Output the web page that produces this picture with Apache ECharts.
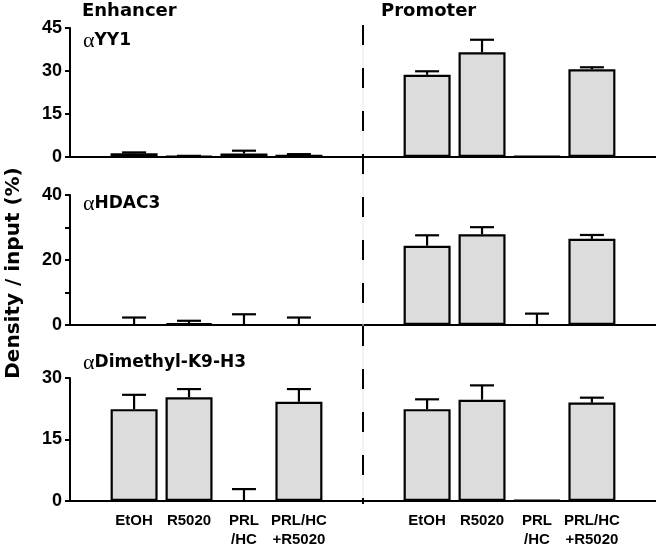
<!DOCTYPE html>
<html>
<head>
<meta charset="utf-8">
<script src="https://cdn.jsdelivr.net/npm/echarts@6/dist/echarts.min.js"></script>
<style>
html,body{margin:0;padding:0;background:#fff;}
#chart{width:656px;height:549px;}
</style>
</head>
<body>
<div id="chart"></div>
<script>
// ---- data ----
const groups = ['Enhancer', 'Promoter'];
const treatments = ['EtOH', 'R5020', 'PRL\n/HC', 'PRL/HC\n+R5020'];
const panelNames = ['YY1', 'HDAC3', 'Dimethyl-K9-H3'];

const yy1Enh = [1.3, 0.3, 1.2, 0.8];
const yy1EnhErr = [0.3, 0.1, 1.0, 0.2];
const yy1Pro = [28.7, 36.5, 0.2, 30.6];
const yy1ProErr = [1.2, 4.4, 0, 0.7];

const hdacEnh = [0, 0.5, 0, 0];
const hdacEnhErr = [2.3, 0.8, 3.3, 2.3];
const hdacPro = [24.4, 27.9, 0, 26.5];
const hdacProErr = [3.2, 2.2, 3.5, 1.2];

const dimEnh = [22.4, 25.3, 0, 24.2];
const dimEnhErr = [3.5, 2.0, 2.9, 3.1];
const dimPro = [22.4, 24.7, 0.2, 24.0];
const dimProErr = [2.4, 3.5, 0, 1.2];

const yTicks1 = [0, 15, 30, 45];
const yTicks2 = [0, 20, 40];
const yTicks3 = [0, 15, 30];

// ---- layout ----
const SLOTS = 32;
function slotOf(g, i) { return (g === 0 ? 3 : 19) + 3 * i; }
const gridLeft = 70, chartW = 656;
const grids = [
  { top: 28, bottom: 157 },
  { top: 195, bottom: 325 },
  { top: 378, bottom: 506 }
];
const panels = [
  { vals: [yy1Enh, yy1Pro], errs: [yy1EnhErr, yy1ProErr], ticks: yTicks1, minor: 15 },
  { vals: [hdacEnh, hdacPro], errs: [hdacEnhErr, hdacProErr], ticks: yTicks2, minor: 10 },
  { vals: [dimEnh, dimPro], errs: [dimEnhErr, dimProErr], ticks: yTicks3, minor: 15 }
];

const cats = [];
for (let s = 0; s < SLOTS; s++) cats.push('');
const labelCats = cats.slice();
groups.forEach((g, gi) => treatments.forEach((t, i) => { labelCats[slotOf(gi, i)] = t; }));

const gridOpt = [], xAxes = [], yAxes = [], series = [];
panels.forEach((p, k) => {
  gridOpt.push({ left: gridLeft, right: 0, top: grids[k].top, height: grids[k].bottom - grids[k].top, containLabel: false });
  xAxes.push({
    type: 'category', gridIndex: k, data: k === 2 ? labelCats : cats,
    axisLine: { lineStyle: { color: '#000', width: 2 } },
    axisTick: { show: false },
    axisLabel: {
      show: k === 2, interval: 0, color: '#000', fontFamily: 'Liberation Sans',
      fontWeight: 'bold', fontSize: 15, lineHeight: 19, margin: 10
    },
    splitLine: { show: false }
  });
  const maxT = p.ticks[p.ticks.length - 1];
  yAxes.push({
    type: 'value', gridIndex: k, min: 0, max: maxT, interval: p.minor,
    axisLine: { show: true, lineStyle: { color: '#000', width: 2 } },
    axisTick: { show: true, length: 5, lineStyle: { color: '#000', width: 2 } },
    axisLabel: {
      color: '#000', fontFamily: 'Liberation Sans', fontWeight: 'bold', fontSize: 18, margin: 8,
      formatter: v => (p.ticks.indexOf(v) >= 0 ? String(v) : '')
    },
    splitLine: { show: false }
  });
  const barData = cats.map(() => null);
  const errData = [];
  p.vals.forEach((arr, gi) => arr.forEach((v, i) => {
    barData[slotOf(gi, i)] = v;
    errData.push([slotOf(gi, i), v, p.errs[gi][i]]);
  }));
  series.push({
    type: 'bar', xAxisIndex: k, yAxisIndex: k, data: barData, barWidth: 47,
    itemStyle: { color: '#dcdcdc', borderColor: '#000', borderWidth: 2.2 },
    silent: true, animation: false
  });
  series.push({
    type: 'custom', xAxisIndex: k, yAxisIndex: k, data: errData, z: 5,
    encode: { x: 0, y: 1 }, animation: false, silent: true,
    renderItem: (params, api) => {
      const x = api.value(0), v = api.value(1), e = api.value(2);
      if (!e) return null;
      const p0 = api.coord([x, v]);
      const p1 = api.coord([x, v + e]);
      const st = { stroke: '#000', lineWidth: 2.2 };
      return {
        type: 'group', children: [
          { type: 'line', shape: { x1: p0[0], y1: p0[1], x2: p1[0], y2: p1[1] }, style: st },
          { type: 'line', shape: { x1: p1[0] - 12, y1: p1[1], x2: p1[0] + 12, y2: p1[1] }, style: st }
        ]
      };
    }
  });
});

const midX = gridLeft + (chartW - gridLeft) / 2;
const titleFont = { fontFamily: 'DejaVu Sans', fontWeight: 'bold', fontSize: 18, fill: '#000' };
const panelLabelY = [41, 204, 363];
const graphic = [
  { type: 'line', shape: { x1: midX, y1: 25, x2: midX, y2: 504 }, style: { stroke: '#e4e4e4', lineWidth: 1 }, z: 1 },
  { type: 'line', shape: { x1: midX, y1: 25, x2: midX, y2: 504 }, style: { stroke: '#000', lineWidth: 2, lineDash: [20, 23] }, z: 2 },
  { type: 'text', x: 82, y: 11, style: Object.assign({ text: groups[0], textVerticalAlign: 'middle' }, titleFont) },
  { type: 'text', x: 381, y: 11, style: Object.assign({ text: groups[1], textVerticalAlign: 'middle' }, titleFont) },
  {
    type: 'text', x: 14, y: 273, rotation: Math.PI / 2,
    style: { text: 'Density / input (%)', textAlign: 'center', textVerticalAlign: 'middle',
      fontFamily: 'DejaVu Sans', fontWeight: 'bold', fontSize: 20, fill: '#000' }
  }
];
panelNames.forEach((n, k) => {
  graphic.push({
    type: 'text', x: 83, y: panelLabelY[k],
    style: {
      text: '{a|α}{b|' + n + '}', textVerticalAlign: 'middle',
      rich: {
        a: { fontFamily: 'Liberation Serif', fontSize: 22, fill: '#000', color: '#000' },
        b: { fontFamily: 'DejaVu Sans', fontWeight: 'bold', fontSize: 17, fill: '#000', color: '#000' }
      }
    }
  });
});

const chart = echarts.init(document.getElementById('chart'), null, { renderer: 'canvas' });
chart.setOption({
  animation: false,
  backgroundColor: '#fff',
  grid: gridOpt, xAxis: xAxes, yAxis: yAxes, series: series, graphic: graphic
});
</script>
</body>
</html>
